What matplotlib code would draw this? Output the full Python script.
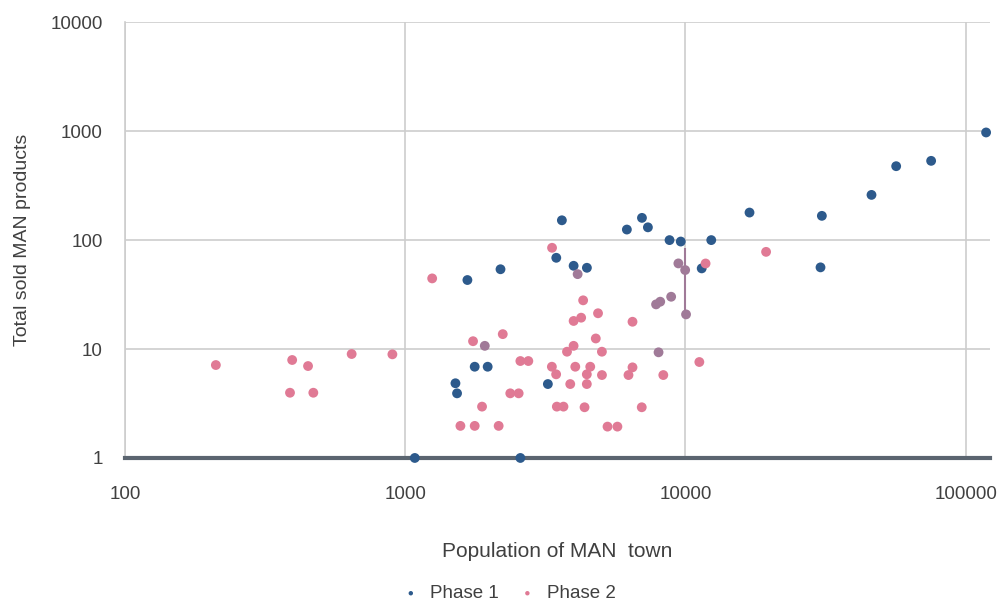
import matplotlib
matplotlib.use('Agg')
import matplotlib.pyplot as plt
from matplotlib.ticker import FixedLocator, FixedFormatter, NullLocator

# Phase 1 towns: population, total sold products
phase1_pop = [1082, 2576, 1511, 1531, 1770, 1969, 1667, 2188, 3229, 3460,
              3623, 3990, 4450, 6180, 6996, 7346, 8775, 9623, 12364, 11430,
              16930, 30680, 30340, 46130, 56500, 75300, 118300]
phase1_sold = [1, 1, 4.85, 3.92, 6.88, 6.88, 43, 54, 4.77, 68.8,
               152, 58.1, 55.7, 125, 160, 131, 100, 97, 100, 55,
               179, 167, 56.2, 260, 477, 534, 973]

# Phase 2 towns
phase2_pop = [211, 395, 450, 388, 470, 644, 900, 1248, 1574, 1770,
              2155, 1880, 1746, 2229, 2371, 2540, 2576, 2750, 3342, 3337,
              3456, 3476, 3671, 3779, 3989, 3881, 4045, 3990, 4245, 4315,
              4876, 4787, 5034, 4574, 4447, 5036, 4447, 4365, 6473, 6473,
              6263, 8337, 6984, 5272, 5718, 11210, 11800, 19400]
phase2_sold = [7.13, 7.93, 6.98, 3.97, 3.97, 9.0, 8.94, 44.5, 1.97, 1.97,
               1.97, 2.96, 11.8, 13.7, 3.92, 3.92, 7.76, 7.76, 85, 6.88,
               5.86, 2.96, 2.96, 9.45, 10.7, 4.77, 6.88, 18.1, 19.4, 28,
               21.3, 12.5, 9.45, 6.88, 5.86, 5.77, 4.77, 2.92, 17.8, 6.79,
               5.77, 5.77, 2.92, 1.94, 1.94, 7.6, 61, 78]

# Phase 2 towns that sit on top of Phase 1 ones (blended colour)
overlap_pop = [1923, 4124, 8018, 9437, 9977, 7856, 8129, 8893, 10050]
overlap_sold = [10.7, 48.7, 9.33, 61.1, 53.1, 25.7, 27.2, 30.2, 20.8]

# range line drawn at the 10000 town
stem_pop = 10000
stem_sold = (20.8, 85)

x_ticks = [100, 1000, 10000, 100000]
y_ticks = [1, 10, 100, 1000, 10000]

BLUE = '#2d5a8c'
PINK = '#e07a95'
MAUVE = '#a07a98'
TEXT = '#404040'

plt.rcParams['font.family'] = ['Liberation Sans', 'DejaVu Sans']

fig = plt.figure(figsize=(10.08, 6.01), dpi=100)
ax = fig.add_axes([0.124, 0.238, 0.858, 0.725])

ax.set_xscale('log')
ax.set_yscale('log')
ax.set_xlim(100, 122000)
ax.set_ylim(1, 10000)

ax.grid(True, which='major', color='#cdcdcd', linewidth=1.2)
ax.set_axisbelow(True)

ax.vlines(stem_pop, stem_sold[0], stem_sold[1], color=MAUVE, linewidth=1.5, zorder=2)

ax.scatter(phase1_pop, phase1_sold, s=50, color=BLUE, label='Phase 1',
           zorder=3, clip_on=False, edgecolors='none')
ax.scatter(phase2_pop, phase2_sold, s=50, color=PINK, label='Phase 2',
           zorder=3, clip_on=False, edgecolors='none')
ax.scatter(overlap_pop, overlap_sold, s=50, color=MAUVE, zorder=3,
           edgecolors='none')

for side in ('top', 'right'):
    ax.spines[side].set_visible(False)
ax.spines['left'].set_color('#cdcdcd')
ax.spines['left'].set_linewidth(1.2)
ax.spines['bottom'].set_color('#5b6570')
ax.spines['bottom'].set_linewidth(3)

ax.xaxis.set_major_locator(FixedLocator(x_ticks))
ax.xaxis.set_major_formatter(FixedFormatter([str(v) for v in x_ticks]))
ax.yaxis.set_major_locator(FixedLocator(y_ticks))
ax.yaxis.set_major_formatter(FixedFormatter([str(v) for v in y_ticks]))
ax.xaxis.set_minor_locator(NullLocator())
ax.yaxis.set_minor_locator(NullLocator())
ax.tick_params(axis='both', length=0, labelsize=13.5, colors=TEXT)
ax.tick_params(axis='x', pad=20)
ax.tick_params(axis='y', pad=16)

ax.set_xlabel('Population of MAN  town', fontsize=15, color=TEXT, labelpad=28)
ax.set_ylabel('Total sold MAN products', fontsize=14, color=TEXT, labelpad=14)

leg = fig.legend(loc='lower center', bbox_to_anchor=(0.50, -0.03), ncol=2,
                 frameon=False, fontsize=13.5, markerscale=0.45,
                 handletextpad=0.05, columnspacing=0.5, labelcolor=TEXT)

fig.savefig('out.png', dpi=100, facecolor='white')
